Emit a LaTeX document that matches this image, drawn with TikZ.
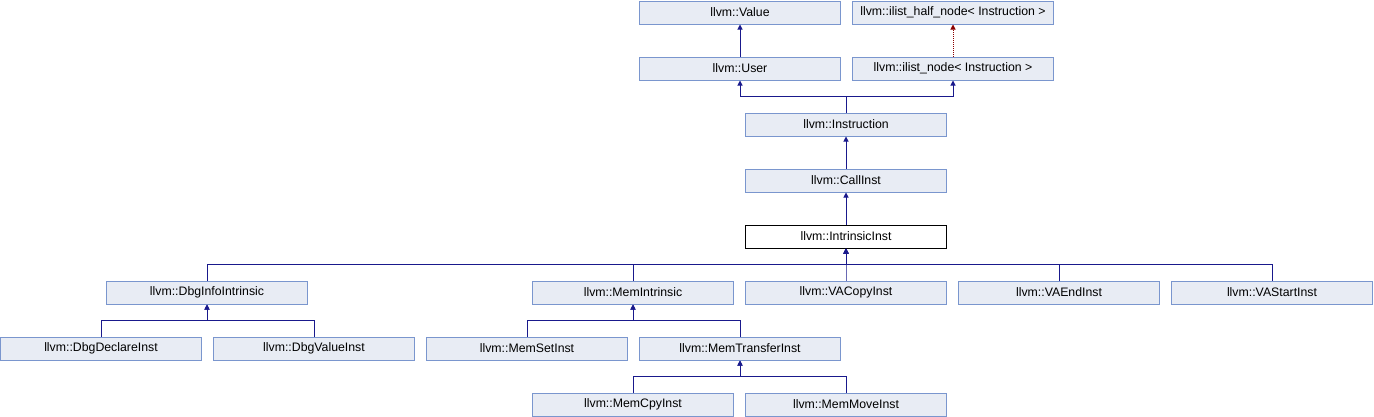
\documentclass[tikz,border=0pt]{standalone}
\usepackage{fontspec}
\setmainfont{Liberation Sans}
\usetikzlibrary{arrows.meta}
\definecolor{boxfill}{RGB}{232,236,244}
\definecolor{boxline}{RGB}{122,150,206}
\definecolor{edgeblue}{RGB}{25,25,140}
\definecolor{edgered}{RGB}{139,0,0}
\tikzset{
  cls/.style={draw=boxline, fill=boxfill, line width=1pt, minimum width=201pt,
    minimum height=23pt, inner sep=0pt, font=\fontsize{12.3}{14}\selectfont},
  cur/.style={cls, draw=black, fill=white},
  inh/.style={draw=edgeblue, line width=1pt, -{Triangle[length=5pt,width=5pt]}},
  tmpl/.style={inh, draw=edgered, densely dotted, -{Triangle[length=5pt,width=5pt,fill=edgered]}}
}
\begin{document}
\begin{tikzpicture}[x=1pt, y=1pt]
  \useasboundingbox (0,0) rectangle (1374,-416);
  % Top rows
  \node[cls] (value) at (740,-12.5) {llvm::Value};
  \node[cls] (halfnode) at (953,-12.5) {llvm::ilist\_half\_node< Instruction >};
  \node[cls] (user) at (740,-68.5) {llvm::User};
  \node[cls] (ilistnode) at (953,-68.5) {llvm::ilist\_node< Instruction >};
  \node[cls] (instruction) at (846,-124.5) {llvm::Instruction};
  \node[cls] (callinst) at (846,-180.5) {llvm::CallInst};
  \node[cur] (intrinsic) at (846,-236.5) {llvm::IntrinsicInst};
  % Subclasses of IntrinsicInst
  \node[cls] (dbginfo) at (207,-292.5) {llvm::DbgInfoIntrinsic};
  \node[cls] (memintr) at (633,-292.5) {llvm::MemIntrinsic};
  \node[cls] (vacopy) at (846,-292.5) {llvm::VACopyInst};
  \node[cls] (vaend) at (1059,-292.5) {llvm::VAEndInst};
  \node[cls] (vastart) at (1272,-292.5) {llvm::VAStartInst};
  % Lower rows
  \node[cls] (dbgdeclare) at (101,-348.5) {llvm::DbgDeclareInst};
  \node[cls] (dbgvalue) at (314,-348.5) {llvm::DbgValueInst};
  \node[cls] (memset) at (527,-348.5) {llvm::MemSetInst};
  \node[cls] (memtransfer) at (740,-348.5) {llvm::MemTransferInst};
  \node[cls] (memcpy) at (633,-404.5) {llvm::MemCpyInst};
  \node[cls] (memmove) at (846,-404.5) {llvm::MemMoveInst};
  % Inheritance edges
  \draw[inh] (user) -- (value);
  \draw[tmpl] (ilistnode) -- (halfnode);
  \foreach \p in {user, ilistnode}
    \draw[inh] (instruction.north) -- ++(0,16.5) -| (\p.south);
  \draw[inh] (callinst) -- (instruction);
  \draw[inh] (intrinsic) -- (callinst);
  \foreach \c in {dbginfo, memintr, vacopy, vaend, vastart}
    \draw[inh] (\c.north) -- ++(0,16.5) -| (intrinsic.south);
  \foreach \c in {dbgdeclare, dbgvalue}
    \draw[inh] (\c.north) -- ++(0,16.5) -| (dbginfo.south);
  \foreach \c in {memset, memtransfer}
    \draw[inh] (\c.north) -- ++(0,16.5) -| (memintr.south);
  \foreach \c in {memcpy, memmove}
    \draw[inh] (\c.north) -- ++(0,16.5) -| (memtransfer.south);
\end{tikzpicture}
\end{document}
